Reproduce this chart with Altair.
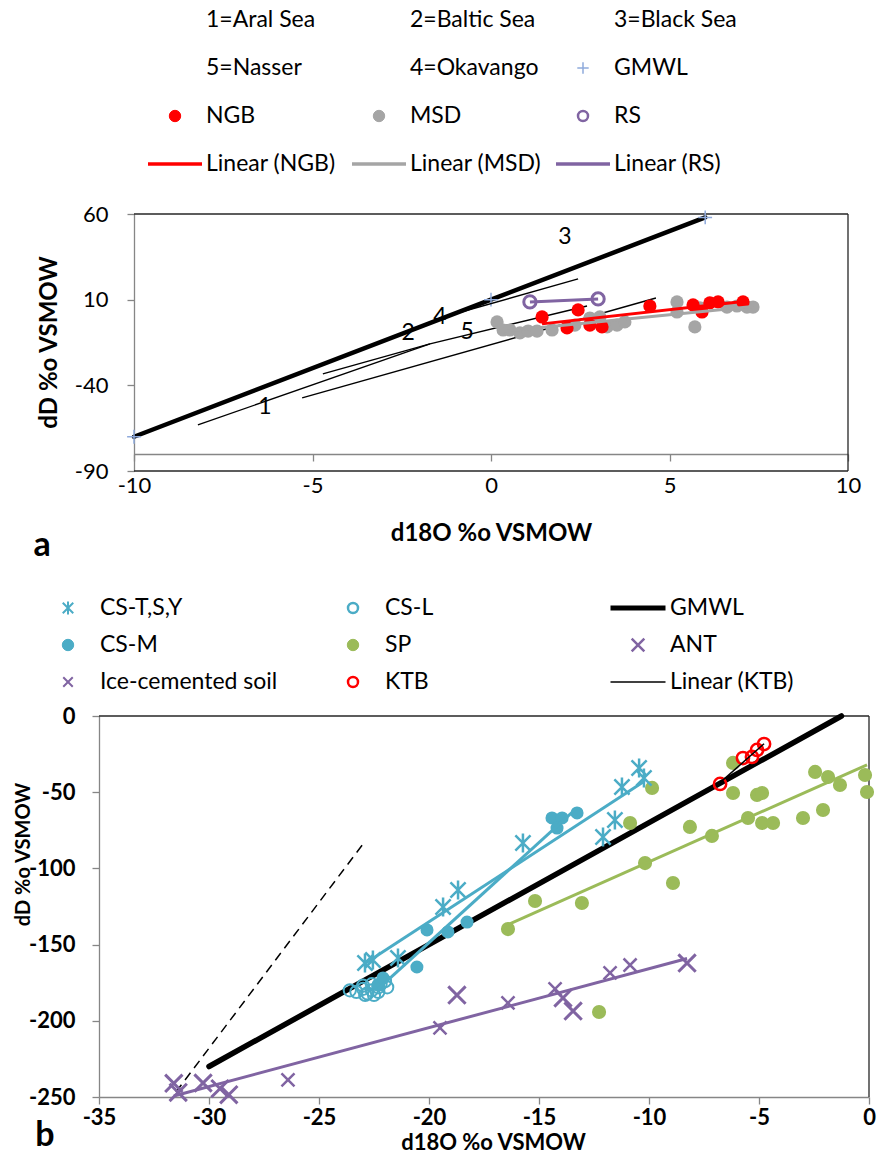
import altair as alt
import pandas as pd

FONT = "Lato"
INK = "#000000"
AXIS_GRAY = "#868686"
FRAME = "#262626"
RED = "#FF0000"
GRAY = "#A5A5A5"
PURPLE = "#8064A2"
BLUE = "#4BACC6"
GREEN = "#9BBB59"
PLUS_BLUE = "#8FAADC"

CROSS = "M-1,0L1,0M0,-1L0,1"
XMARK = "M-1,-1L1,1M-1,1L1,-1"
ASTER = "M-1,-1L1,1M-1,1L1,-1M0,-1.25L0,1.25"
BAR = "M-1,0L1,0"

# ---------------- panel a: saline lakes and the study waters ----------------
gmwl_a_x = [-10, 0, 6]
gmwl_a_y = [-70, 10, 58]

ngb_x = [1.43, 2.13, 2.44, 2.77, 3.11, 4.45, 5.66, 5.91, 6.13, 6.36, 7.06]
ngb_y = [-0.1, -6.5, 4.0, -4.8, -5.9, 6.3, 6.9, 2.8, 8.1, 8.7, 8.7]

msd_x = [0.17, 0.34, 0.53, 0.81, 1.04, 1.29, 1.71, 2.35, 2.77, 3.05, 3.25, 3.53,
         3.75, 5.21, 5.21, 5.71, 5.85, 6.61, 6.89, 7.17, 7.34]
msd_y = [-3.0, -7.7, -7.7, -9.4, -8.3, -8.3, -7.7, -4.8, -0.7, -0.1, -5.9, -4.8,
         -3.0, 8.7, 2.8, -5.9, 5.2, 5.7, 6.3, 5.7, 5.7]

rs_x = [1.09, 3.0]
rs_y = [8.7, 10.4]

lake_id = ["1", "2", "3", "4", "5"]
lake_name = ["Aral Sea", "Baltic Sea", "Black Sea", "Okavango", "Nasser"]
lake_x0 = [-8.21, -4.71, -5.29, -1.43, -1.71]
lake_y0 = [-63.1, -33.3, -47.3, -0.7, -15.8]
lake_x1 = [-1.71, -1.71, 4.62, 2.44, 2.69]
lake_y1 = [-15.8, -15.8, 11.0, 22.1, 6.3]
lake_lab_x = [-6.33, -2.32, 2.07, -1.43, -0.67]
lake_lab_y = [-52.6, -9.4, 46.6, -0.1, -8.8]

# ---------------- panel b: Antarctic waters and soils ----------------
gmwl_b_x = [-30, -1.25]
gmwl_b_y = [-230, 0]

dash_x = [-31.5, -23.0]
dash_y = [-246.7, -84.0]

cs_tsy_x = [-22.91, -22.55, -21.41, -19.36, -18.68, -15.73, -12.09, -11.55, -11.23, -10.45, -10.23]
cs_tsy_y = [-162.1, -160.1, -158.8, -125.3, -114.2, -83.3, -79.4, -68.2, -46.6, -34.1, -40.7]

cs_m_x = [-22.32, -22.09, -20.55, -20.09, -19.14, -18.27, -14.41, -13.95, -13.27, -14.18]
cs_m_y = [-176.5, -171.9, -164.7, -140.4, -141.7, -135.2, -66.9, -66.9, -63.6, -73.5]

cs_l_x = [-23.6, -23.3, -23.0, -22.8, -22.6, -22.5, -22.3, -22.2, -22.0, -22.6, -23.0, -22.9, -22.3, -21.9]
cs_l_y = [-180, -181, -179, -182, -180, -183, -178, -176, -174, -176, -177, -183, -181, -178]

sp_x = [-16.41, -15.18, -13.05, -12.27, -10.86, -10.18, -9.86, -8.91, -8.14, -7.14, -6.18, -6.18,
        -5.5, -5.09, -4.86, -4.86, -4.36, -3.0, -2.45, -2.09, -1.86, -1.32, -0.18, -0.09]
sp_y = [-139.8, -121.4, -122.7, -194.2, -70.2, -96.5, -47.2, -109.6, -72.8, -78.7, -30.8, -50.5,
        -66.9, -51.8, -50.5, -70.2, -70.2, -66.9, -36.7, -61.7, -40.0, -45.3, -38.7, -49.9]

ant_x = [-31.6, -31.4, -30.27, -29.5, -29.1, -18.73, -13.91, -13.45, -8.27]
ant_y = [-241.0, -247.0, -240.8, -244.5, -248.5, -183.1, -185.0, -193.6, -162.1]

ice_x = [-26.41, -19.5, -16.41, -14.27, -11.77, -10.86]
ice_y = [-238.8, -204.7, -188.3, -179.1, -168.6, -163.4]

ktb_x = [-6.77, -5.73, -5.32, -5.09, -4.77]
ktb_y = [-44.6, -27.6, -26.9, -22.3, -18.4]

# ---------------- legends ----------------
leg_a_label = ["1=Aral Sea", "2=Baltic Sea", "3=Black Sea",
               "5=Nasser", "4=Okavango", "GMWL",
               "NGB", "MSD", "RS",
               "Linear (NGB)", "Linear (MSD)", "Linear (RS)"]
leg_a_col = [0, 1, 2] * 4
leg_a_row = [0, 0, 0, 1, 1, 1, 2, 2, 2, 3, 3, 3]

leg_b_label = ["CS-T,S,Y", "CS-L", "GMWL",
               "CS-M", "SP", "ANT",
               "Ice-cemented soil", "KTB", "Linear (KTB)"]
leg_b_col = [0, 1, 2] * 3
leg_b_row = [0, 0, 0, 1, 1, 1, 2, 2, 2]


def pts(xs, ys):
    return pd.DataFrame({"x": xs, "y": ys})


def axis(**kw):
    base = dict(grid=False, domainColor=AXIS_GRAY, tickColor=AXIS_GRAY, tickSize=7,
                domainWidth=1.3, tickWidth=1.3, labelFont=FONT, labelColor=INK,
                titleFont=FONT, titleColor=INK, titleFontWeight="bold",
                labelOverlap=False, labelFlush=False, labelExpr="'' + datum.value")
    base.update(kw)
    return alt.Axis(**base)


# ---------------- panel a layers ----------------
xa = alt.Scale(domain=[-10, 10], range=[134, 848], nice=False, zero=False)
ya = alt.Scale(domain=[-90, 60], range=[471, 214], nice=False, zero=False)
ax_xa = axis(orient="bottom", offset=454 - 1155, values=[-10, -5, 0, 5, 10],
             labelFontSize=22, labelPadding=14, title="d18O  %o VSMOW", titleFontSize=24,
             titleX=491, titleY=79, titleAlign="center", titleBaseline="middle")
ax_ya = axis(orient="left", offset=-134, values=[-90, -40, 10, 60],
             labelFontSize=22, labelPadding=19, title="dD %o VSMOW", titleFontSize=24,
             titleX=-85, titleY=342, titleAngle=270, titleAlign="center", titleBaseline="middle")


def XA(f="x"):
    return alt.X(f"{f}:Q", scale=xa, axis=ax_xa)


def YA(f="y"):
    return alt.Y(f"{f}:Q", scale=ya, axis=ax_ya)


frame_a = pd.DataFrame({"x": [-10, 10, -10], "x2": [10, 10, 10],
                        "y": [60, -90, -90], "y2": [60, 60, -90]})
lakes = pd.DataFrame({"id": lake_id, "lake": lake_name, "x": lake_x0, "y": lake_y0,
                      "x2": lake_x1, "y2": lake_y1, "lx": lake_lab_x, "ly": lake_lab_y})

a_frame = alt.Chart(frame_a).mark_rule(color=FRAME, strokeWidth=1.3).encode(
    x=XA(), y=YA(), x2="x2:Q", y2="y2:Q")
a_gmwl = alt.Chart(pts(gmwl_a_x, gmwl_a_y)).mark_line(
    color=INK, strokeWidth=4.5, strokeCap="round").encode(x=XA(), y=YA(), order="x:Q")
a_gmwl_pts = alt.Chart(pts(gmwl_a_x, gmwl_a_y)).mark_point(
    shape=CROSS, size=190, color=PLUS_BLUE, strokeWidth=1.5, opacity=1).encode(x=XA(), y=YA())
a_lakes = alt.Chart(lakes).mark_rule(color=INK, strokeWidth=1.4).encode(
    x=XA(), y=YA(), x2="x2:Q", y2="y2:Q")
a_lake_lab = alt.Chart(lakes).mark_text(font=FONT, fontSize=23, color=INK).encode(
    x=XA("lx"), y=YA("ly"), text="id:N")
a_msd = alt.Chart(pts(msd_x, msd_y)).mark_point(
    shape="circle", filled=True, size=175, color=GRAY, opacity=1).encode(x=XA(), y=YA())
a_ngb = alt.Chart(pts(ngb_x, ngb_y)).mark_point(
    shape="circle", filled=True, size=175, color=RED, opacity=1).encode(x=XA(), y=YA())
a_msd_fit = alt.Chart(pts(msd_x, msd_y)).transform_regression("x", "y").mark_line(
    color=GRAY, strokeWidth=3).encode(x=XA(), y=YA())
a_ngb_fit = alt.Chart(pts(ngb_x, ngb_y)).transform_regression("x", "y").mark_line(
    color=RED, strokeWidth=3).encode(x=XA(), y=YA())
a_rs = alt.Chart(pts(rs_x, rs_y)).mark_point(
    shape="circle", filled=False, size=150, color=PURPLE, strokeWidth=3, opacity=1).encode(x=XA(), y=YA())
a_rs_fit = alt.Chart(pts(rs_x, rs_y)).transform_regression("x", "y").mark_line(
    color=PURPLE, strokeWidth=3).encode(x=XA(), y=YA())

panel_a = alt.layer(a_frame, a_gmwl, a_gmwl_pts, a_lakes, a_lake_lab, a_msd, a_ngb,
                    a_msd_fit, a_ngb_fit, a_rs, a_rs_fit)

# ---------------- panel b layers ----------------
xb = alt.Scale(domain=[-35, 0], range=[99, 869], nice=False, zero=False)
yb = alt.Scale(domain=[-250, 0], range=[1097, 716], nice=False, zero=False)
ax_xb = axis(orient="bottom", offset=1097 - 1155, values=[-35, -30, -25, -20, -15, -10, -5, 0],
             labelFontSize=22, labelFontWeight="bold", labelPadding=3, title="d18O %o VSMOW",
             titleFontSize=22, titleX=493, titleY=45, titleAlign="center", titleBaseline="middle")
ax_yb = axis(orient="left", offset=-99, values=[-250, -200, -150, -100, -50, 0],
             labelFontSize=22, labelFontWeight="bold", labelPadding=17, title="dD %o VSMOW",
             titleFontSize=20, titleX=-76, titleY=854, titleAngle=270, titleAlign="center",
             titleBaseline="middle")


def XB(f="x"):
    return alt.X(f"{f}:Q", scale=xb, axis=ax_xb)


def YB(f="y"):
    return alt.Y(f"{f}:Q", scale=yb, axis=ax_yb)


frame_b = pd.DataFrame({"x": [-35, 0], "x2": [0, 0], "y": [0, -250], "y2": [0, 0]})
purple_all = pts(ant_x + ice_x, ant_y + ice_y)

b_frame = alt.Chart(frame_b).mark_rule(color=FRAME, strokeWidth=1.3).encode(
    x=XB(), y=YB(), x2="x2:Q", y2="y2:Q")
b_dash = alt.Chart(pts(dash_x, dash_y)).mark_line(
    color=INK, strokeWidth=1.5, strokeDash=[9, 6]).encode(x=XB(), y=YB())
b_gmwl = alt.Chart(pts(gmwl_b_x, gmwl_b_y)).mark_line(
    color=INK, strokeWidth=5.5, strokeCap="round").encode(x=XB(), y=YB())
b_sp = alt.Chart(pts(sp_x, sp_y)).mark_point(
    shape="circle", filled=True, size=200, color=GREEN, opacity=1).encode(x=XB(), y=YB())
b_sp_fit = alt.Chart(pts(sp_x, sp_y)).transform_regression("x", "y").mark_line(
    color=GREEN, strokeWidth=3).encode(x=XB(), y=YB())
b_ant = alt.Chart(pts(ant_x, ant_y)).mark_point(
    shape=XMARK, size=300, color=PURPLE, strokeWidth=3, opacity=1).encode(x=XB(), y=YB())
b_ice = alt.Chart(pts(ice_x, ice_y)).mark_point(
    shape=XMARK, size=170, color=PURPLE, strokeWidth=2.5, opacity=1).encode(x=XB(), y=YB())
b_purple_fit = alt.Chart(purple_all).transform_regression("x", "y").mark_line(
    color=PURPLE, strokeWidth=3).encode(x=XB(), y=YB())
b_csl = alt.Chart(pts(cs_l_x, cs_l_y)).mark_point(
    shape="circle", filled=False, size=150, color=BLUE, strokeWidth=2, opacity=1).encode(x=XB(), y=YB())
b_csm = alt.Chart(pts(cs_m_x, cs_m_y)).mark_point(
    shape="circle", filled=True, size=170, color=BLUE, opacity=1).encode(x=XB(), y=YB())
b_csm_fit = alt.Chart(pts(cs_m_x, cs_m_y)).transform_regression("x", "y").mark_line(
    color=BLUE, strokeWidth=3).encode(x=XB(), y=YB())
b_tsy = alt.Chart(pts(cs_tsy_x, cs_tsy_y)).mark_point(
    shape=ASTER, size=230, color=BLUE, strokeWidth=2.5, opacity=1).encode(x=XB(), y=YB())
b_tsy_fit = alt.Chart(pts(cs_tsy_x, cs_tsy_y)).transform_regression("x", "y").mark_line(
    color=BLUE, strokeWidth=3).encode(x=XB(), y=YB())
b_ktb = alt.Chart(pts(ktb_x, ktb_y)).mark_point(
    shape="circle", filled=False, size=150, color=RED, strokeWidth=2.5, opacity=1).encode(x=XB(), y=YB())
b_ktb_fit = alt.Chart(pts(ktb_x, ktb_y)).transform_regression("x", "y").mark_line(
    color=INK, strokeWidth=1.5).encode(x=XB(), y=YB())

panel_b = alt.layer(b_frame, b_dash, b_gmwl, b_sp, b_sp_fit, b_ant, b_ice, b_purple_fit,
                    b_csl, b_csm, b_csm_fit, b_tsy, b_tsy_fit, b_ktb, b_ktb_fit)

# ---------------- legend blocks ----------------
def legend_block(labels, cols, rows, symbols, xdom, xrng, ydom, yrng, dx):
    lx = alt.Scale(domain=xdom, range=xrng, nice=False, zero=False)
    ly = alt.Scale(domain=ydom, range=yrng, nice=False, zero=False)
    text_df = pd.DataFrame({"label": labels, "col": cols, "row": rows})
    sym_df = pd.DataFrame(symbols, columns=["col", "row", "shape", "fill", "stroke", "size", "sw"])
    txt = alt.Chart(text_df).mark_text(
        align="left", baseline="middle", dx=dx, font=FONT, fontSize=23, color=INK).encode(
        x=alt.X("col:Q", scale=lx, axis=None), y=alt.Y("row:Q", scale=ly, axis=None), text="label:N")
    sym = alt.Chart(sym_df).mark_point(opacity=1).encode(
        x=alt.X("col:Q", scale=lx, axis=None), y=alt.Y("row:Q", scale=ly, axis=None),
        shape=alt.Shape("shape:N", scale=None), fill=alt.Fill("fill:N", scale=None),
        stroke=alt.Stroke("stroke:N", scale=None), size=alt.Size("size:Q", scale=None),
        strokeWidth=alt.StrokeWidth("sw:Q", scale=None))
    return alt.layer(sym, txt)


sym_a = [
    [2, 1, CROSS, "transparent", PLUS_BLUE, 130, 1.5],
    [0, 2, "circle", RED, RED, 130, 1],
    [1, 2, "circle", GRAY, GRAY, 130, 1],
    [2, 2, "circle", "transparent", PURPLE, 100, 2.5],
    [0, 3, BAR, "transparent", RED, 2916, 3.5],
    [1, 3, BAR, "transparent", GRAY, 2916, 3.5],
    [2, 3, BAR, "transparent", PURPLE, 2916, 3.5],
]
sym_b = [
    [0, 0, ASTER, "transparent", BLUE, 110, 2],
    [1, 0, "circle", "transparent", BLUE, 100, 2.5],
    [2, 0, BAR, "transparent", INK, 3025, 5],
    [0, 1, "circle", BLUE, BLUE, 130, 1],
    [1, 1, "circle", GREEN, GREEN, 130, 1],
    [2, 1, XMARK, "transparent", PURPLE, 160, 2.5],
    [0, 2, XMARK, "transparent", PURPLE, 90, 2],
    [1, 2, "circle", "transparent", RED, 100, 2.5],
    [2, 2, BAR, "transparent", INK, 3025, 1.5],
]

legend_a = legend_block(leg_a_label, leg_a_col, leg_a_row, sym_a,
                        [0, 2], [175, 583], [0, 3], [20, 164], 31)
legend_b = legend_block(leg_b_label, leg_b_col, leg_b_row, sym_b,
                        [0, 2], [68, 638], [0, 2], [608, 682], 32)

# panel tags
tags = alt.layer(
    alt.Chart(pd.DataFrame({"t": ["a"]})).mark_text(
        font=FONT, fontSize=34, fontWeight="bold", color=INK, baseline="middle").encode(
        x=alt.value(42), y=alt.value(546), text="t:N"),
    alt.Chart(pd.DataFrame({"t": ["b"]})).mark_text(
        font=FONT, fontSize=34, fontWeight="bold", color=INK, baseline="middle").encode(
        x=alt.value(45), y=alt.value(1136), text="t:N"),
)

chart = (
    alt.layer(panel_a, panel_b, legend_a, legend_b, tags)
    .resolve_scale(x="independent", y="independent")
    .resolve_axis(x="independent", y="independent")
    .properties(width=879, height=1155, padding=0,
                autosize=alt.AutoSizeParams(type="none"), background="white")
    .configure_view(strokeWidth=0)
)

chart.save("out.html", embed_options={"renderer": "svg", "actions": False})
